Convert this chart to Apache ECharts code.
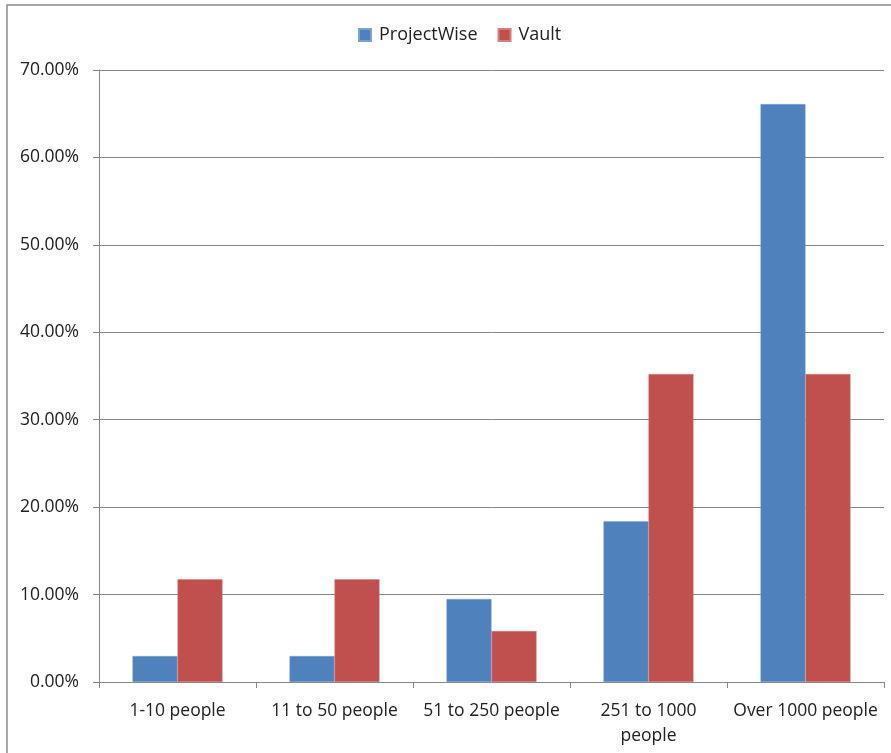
<!DOCTYPE html>
<html>
<head>
<meta charset="utf-8">
<script src="https://cdn.jsdelivr.net/npm/echarts@6/dist/echarts.min.js"></script>
<style>
  html, body { margin: 0; padding: 0; background: #fff; }
  #chart { width: 891px; height: 753px; }
</style>
</head>
<body>
<div id="chart"></div>
<script>
let categories = ['1-10 people', '11 to 50 people', '51 to 250 people', '251 to 1000\npeople', 'Over 1000 people'];
let projectWise = [2.97, 2.97, 9.5, 18.4, 66.1];
let vault = [11.75, 11.75, 5.83, 35.23, 35.23];
let yTicks = [0, 10, 20, 30, 40, 50, 60, 70];

let chart = echarts.init(document.getElementById('chart'));
let font = 'Open Sans';

chart.setOption({
    animation: false,
    // outer frame of the chart area
    graphic: [{
        type: 'rect',
        shape: { x: 7, y: 5, width: 900, height: 800 },
        style: { fill: 'none', stroke: '#8c8c8c', lineWidth: 1.5 },
        silent: true
    }],
    legend: {
        top: 21,
        left: 353,
        itemWidth: 12,
        itemHeight: 12,
        itemGap: 20,
        icon: 'rect',
        textStyle: { fontFamily: font, fontSize: 18, color: '#222', padding: [0, 0, 0, 3] },
        data: ['ProjectWise', 'Vault']
    },
    grid: { left: 99, right: 7, top: 70, bottom: 71 },
    xAxis: {
        type: 'category',
        data: categories,
        axisLine: { lineStyle: { color: '#868686' } },
        axisTick: { show: true, length: 6, lineStyle: { color: '#868686' } },
        axisLabel: { fontFamily: font, fontSize: 17.5, color: '#222', margin: 17, lineHeight: 25, interval: 0 }
    },
    yAxis: {
        type: 'value',
        min: 0,
        max: 70,
        interval: 10,
        axisLine: { show: true, lineStyle: { color: '#868686' } },
        axisTick: { show: true, length: 6, lineStyle: { color: '#868686' } },
        splitLine: { lineStyle: { color: '#868686' } },
        axisLabel: {
            fontFamily: font, fontSize: 17.5, color: '#222', margin: 20,
            formatter: v => yTicks.includes(v) ? v.toFixed(2) + '%' : ''
        }
    },
    series: [
        {
            name: 'ProjectWise',
            type: 'bar',
            data: projectWise,
            barWidth: 45,
            barGap: '0%',
            itemStyle: { color: '#4F81BD', borderColor: '#7fa3d1', borderWidth: 0.5 }
        },
        {
            name: 'Vault',
            type: 'bar',
            data: vault,
            barWidth: 45,
            itemStyle: { color: '#C0504D', borderColor: '#d47f7d', borderWidth: 0.5 }
        }
    ]
});
</script>
</body>
</html>
